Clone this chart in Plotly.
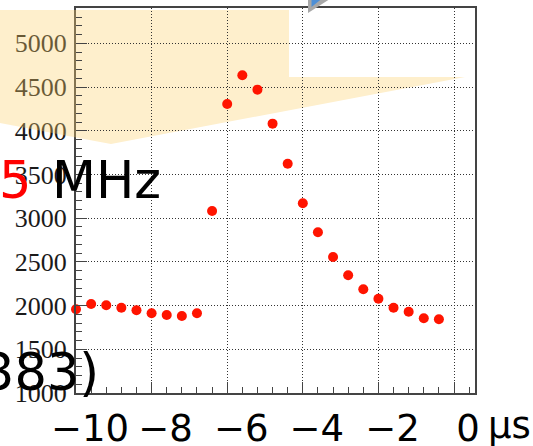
import plotly.graph_objects as go

# ---- data ----
time_us = [-10.0, -9.6, -9.2, -8.8, -8.4, -8.0, -7.6, -7.2, -6.8, -6.4, -6.0, -5.6, -5.2,
           -4.8, -4.4, -4.0, -3.6, -3.2, -2.8, -2.4, -2.0, -1.6, -1.2, -0.8, -0.4]
values = [1958, 2018, 2003, 1976, 1946, 1912, 1892, 1881, 1912, 3082, 4306, 4634, 4470,
          4081, 3623, 3170, 2838, 2556, 2346, 2186, 2079, 1976, 1930, 1855, 1843]
x_ticks = [-10, -8, -6, -4, -2, 0]
y_ticks = [1000, 1500, 2000, 2500, 3000, 3500, 4000, 4500, 5000]
x_unit = "µs"
freq_text = ["5", "MHz"]
corner_text = "383)"

W, H = 533, 446
L, R, T, B = 76, 475, 8, 393


def px(x):
    return (x - L) / (R - L)


def py(y):
    return (B - y) / (B - T)


def poly_path(pts):
    return "M " + " L ".join(f"{px(a):.4f},{py(b):.4f}" for a, b in pts) + " Z"


fig = go.Figure()
fig.add_trace(go.Scatter(
    x=time_us, y=values, mode="markers",
    marker=dict(color="#ff1400", size=10, line=dict(width=0)),
    cliponaxis=False, showlegend=False, hoverinfo="skip",
))

axis_line = "#444444"
fig.update_xaxes(
    range=[-10, 0.555], tickvals=x_ticks, automargin=False,
    ticks="inside", ticklen=11, tickcolor=axis_line, tickwidth=1,
    minor=dict(dtick=0.4, tick0=-10, ticks="inside", ticklen=6, tickcolor=axis_line, showgrid=False),
    showline=True, linecolor=axis_line, linewidth=2, mirror=True,
    showgrid=True, gridcolor="#333333", gridwidth=1, griddash="1px,2px",
    zeroline=False,
    tickfont=dict(family="DejaVu Sans", size=37, color="black"),
    ticklabelshift=14, ticklabelstandoff=2,
)

fig.update_yaxes(
    range=[1000, 5404], tickvals=y_ticks, automargin=False,
    ticks="inside", ticklen=11, tickcolor=axis_line, tickwidth=1,
    minor=dict(dtick=100, tick0=1000, ticks="inside", ticklen=6, tickcolor=axis_line, showgrid=False),
    showline=True, linecolor=axis_line, linewidth=2, mirror=True,
    showgrid=True, gridcolor="#333333", gridwidth=1, griddash="1px,2px",
    zeroline=False,
    tickfont=dict(family="Liberation Serif", size=26, color="#1a1a1a"),
    ticklabelstandoff=2,
)

# translucent callout balloon: part over the tick labels drawn above,
# part inside the frame drawn beneath the markers
left_part = [(-5, 10), (76, 10), (76, 137.4), (-5, 122)]
right_part = [(76, 10), (289, 10), (289, 77), (465, 77), (111, 144), (76, 137.4)]
fig.add_shape(type="path", xref="paper", yref="paper", path=poly_path(left_part),
              fillcolor="rgba(252,210,110,0.35)", line=dict(width=0), layer="above")
fig.add_shape(type="path", xref="paper", yref="paper", path=poly_path(right_part),
              fillcolor="rgb(254,239,204)", line=dict(width=0), layer="below")

# callout pointer at top
gray = [(308, -3), (308, 13), (333, -3)]
blue = [(311.5, -3), (311.5, 7), (324, -3)]
for poly, col in ((gray, "#a8a8a8"), (blue, "#4d8fd6")):
    fig.add_shape(type="path", xref="paper", yref="paper", path=poly_path(poly),
                  fillcolor=col, line=dict(width=0), layer="above")

big = dict(family="DejaVu Sans", size=51, color="black")
fig.add_annotation(xref="paper", yref="paper", x=px(163), y=py(180),
                   xanchor="right", yanchor="middle", showarrow=False,
                   text=freq_text[1], font=big)
fig.add_annotation(xref="paper", yref="paper", x=px(-3), y=py(180),
                   xanchor="left", yanchor="middle", showarrow=False,
                   text=freq_text[0], font=dict(big, color="#ff0000"))
fig.add_annotation(xref="paper", yref="paper", x=px(101), y=py(372),
                   xanchor="right", yanchor="middle", showarrow=False,
                   text=corner_text, font=big)
fig.add_annotation(xref="paper", yref="paper", x=px(486), y=py(425),
                   xanchor="left", yanchor="middle", showarrow=False,
                   text=x_unit, font=dict(family="DejaVu Sans", size=37, color="black"))

fig.update_layout(
    width=W, height=H,
    margin=dict(l=L, r=W - R, t=T, b=H - B, pad=0),
    paper_bgcolor="white", plot_bgcolor="white",
)

fig.write_html("out.html")
